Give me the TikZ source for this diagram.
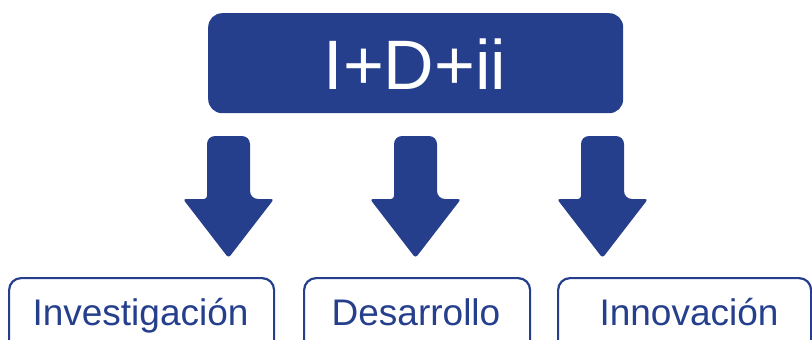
\documentclass[tikz,border=0pt]{standalone}
\usepackage{fontspec}
\setmainfont{Liberation Sans}
\definecolor{idblue}{RGB}{37,63,141}
\tikzset{
  topbox/.style={fill=idblue, rounded corners=14pt, minimum width=415pt, minimum height=100pt, inner sep=0pt, anchor=north west},
  subbox/.style={draw=idblue, line width=2.2pt, rounded corners=12pt, minimum height=100pt, inner sep=0pt, anchor=north west},
  toplabel/.style={text=white, font=\fontsize{70}{70}\selectfont, inner sep=0pt, anchor=base},
  sublabel/.style={text=idblue, font=\fontsize{37}{37}\selectfont, inner sep=0pt, anchor=base},
  blockarrow/.style={fill=idblue}
}
\begin{document}
\begin{tikzpicture}[x=1pt,y=-1pt]
\useasboundingbox (0,0) rectangle (812,340);
\clip (0,0) rectangle (812,340);
% top box
\node[topbox] (top) at (208,13) {};
\node[toplabel] (toptext) at (415,89) {I+D+ii};
% arrows
\foreach \c/\n in {228.5/a1,415.5/a2,602.5/a3}{
  \fill[blockarrow] (\c,136) [rounded corners=8pt] -- (\c+21.5,136) -- (\c+21.5,199) [rounded corners=3pt] -- (\c+45.5,199) -- (\c,258) -- (\c-45.5,199) -- (\c-21.5,199) [rounded corners=8pt] -- (\c-21.5,136) -- cycle;
}
% bottom boxes
\node[subbox, minimum width=265pt] (b1) at (8,277) {};
\node[subbox, minimum width=226pt] (b2) at (303,277) {};
\node[subbox, minimum width=253pt] (b3) at (557,277) {};
\node[sublabel] (l1) at (140.5,325) {Investigación};
\node[sublabel] (l2) at (416,325) {Desarrollo};
\node[sublabel] (l3) at (689,325) {Innovación};
\end{tikzpicture}
\end{document}
